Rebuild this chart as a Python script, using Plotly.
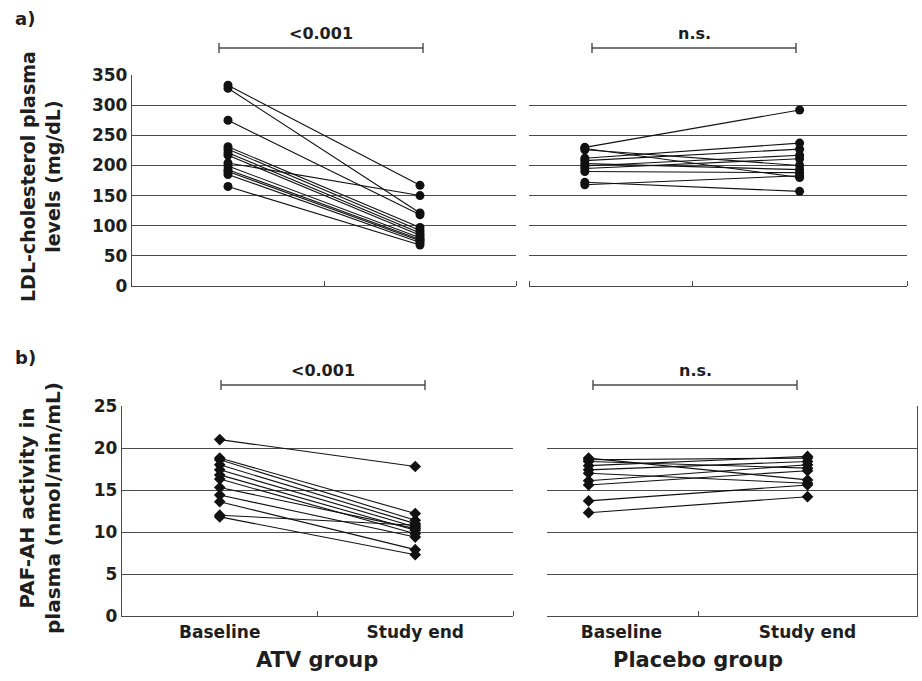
import plotly.graph_objects as go

# ---------------- data ----------------
timepoints = ["Baseline", "Study end"]
groups = ["ATV group", "Placebo group"]

ldl_atv_baseline = [333, 328, 275, 231, 227, 221, 217, 204, 199, 193, 190, 185, 165]
ldl_atv_end      = [167, 121, 118, 97, 92, 88, 84, 150, 80, 77, 75, 72, 68]
ldl_pla_baseline = [230, 228, 226, 212, 208, 203, 199, 195, 190, 172, 168]
ldl_pla_end      = [292, 180, 200, 237, 227, 193, 217, 211, 188, 157, 183]

paf_atv_baseline = [21.0, 18.8, 18.6, 18.0, 17.4, 16.8, 16.3, 15.3, 14.4, 13.6, 12.0, 11.8]
paf_atv_end      = [17.8, 12.2, 11.4, 11.0, 10.6, 10.2, 9.8, 10.4, 9.4, 7.9, 10.8, 7.3]
paf_pla_baseline = [18.8, 18.6, 18.4, 17.9, 17.4, 17.0, 16.1, 15.6, 13.7, 12.3]
paf_pla_end      = [16.2, 18.8, 17.6, 19.0, 18.4, 15.8, 18.0, 17.3, 15.6, 14.2]

ldl_ticks = [0, 50, 100, 150, 200, 250, 300, 350]
paf_ticks = [0, 5, 10, 15, 20, 25]
p_labels = ["<0.001", "n.s."]

# ---------------- layout helpers ----------------
W, H = 922, 681
def px(x):
    return x / W
def py(y):
    return 1 - y / H

FONT = "DejaVu Sans"
INK = "#1e1e1e"
LINE = "#4a4a4a"

def fnt(size):
    return dict(family=FONT, size=size, color=INK, weight=700)

def paired(base, end):
    xs, ys = [], []
    for b, e in zip(base, end):
        xs += [0, 1, None]
        ys += [b, e, None]
    return xs, ys

fig = go.Figure()
panels = [
    (ldl_atv_baseline, ldl_atv_end, "x", "y", "circle"),
    (ldl_pla_baseline, ldl_pla_end, "x2", "y2", "circle"),
    (paf_atv_baseline, paf_atv_end, "x3", "y3", "diamond"),
    (paf_pla_baseline, paf_pla_end, "x4", "y4", "diamond"),
]
for base, end, xa, ya, sym in panels:
    xs, ys = paired(base, end)
    fig.add_trace(go.Scatter(
        x=xs, y=ys, xaxis=xa, yaxis=ya, mode="lines+markers",
        line=dict(color="#111111", width=1.1),
        marker=dict(symbol=sym, size=9, color="#111111"),
        showlegend=False, hoverinfo="skip", connectgaps=False))

tickfont = fnt(17)

def xaxis(domain, rng, anchor, labels, label_vals, minor_vals):
    return dict(domain=domain, range=rng, anchor=anchor, automargin=False,
                showgrid=False, zeroline=False, showline=True,
                linecolor=LINE, linewidth=1.3,
                tickmode="array", tickvals=label_vals,
                ticktext=timepoints if labels else ["", ""],
                showticklabels=labels, ticks="", tickfont=tickfont,
                ticklabelstandoff=0,
                minor=dict(tickmode="array", tickvals=minor_vals,
                           ticks="inside", ticklen=5, tickwidth=1.2,
                           tickcolor=LINE, showgrid=False))

def yaxis(domain, rng, anchor, ticks, labels, side="left", line=True):
    return dict(domain=domain, range=rng, anchor=anchor, side=side, automargin=False,
                tickmode="array", tickvals=ticks,
                showticklabels=labels, ticks="", tickfont=tickfont,
                showgrid=True, gridcolor=LINE, gridwidth=1.2,
                zeroline=False, showline=line, linecolor=LINE, linewidth=1.3)

ya_dom = [py(286), py(75)]
yb_dom = [py(616), py(406)]

fig.update_layout(
    width=W, height=H,
    margin=dict(l=0, r=0, t=0, b=0, pad=0),
    paper_bgcolor="white", plot_bgcolor="white",
    font=fnt(17),
    xaxis=xaxis([px(132), px(516)], [-0.5, 1.5], "y", False, [0, 1], [0.5, 1.5]),
    xaxis2=xaxis([px(529), px(907)], [-0.26, 1.5], "y2", False, [0, 1], [-0.26, 0.5, 1.5]),
    xaxis3=xaxis([px(122), px(513)], [-0.5, 1.5], "y3", True, [0, 1], [0.5, 1.5]),
    xaxis4=xaxis([px(547), px(917)], [-0.19, 1.5], "y4", True, [0.15, 1], [0.5]),
    yaxis=yaxis(ya_dom, [0, 350], "x", ldl_ticks, True),
    yaxis2=yaxis(ya_dom, [0, 350], "x2", ldl_ticks, False, line=False),
    yaxis3=yaxis(yb_dom, [0, 25], "x3", paf_ticks, True),
    yaxis4=yaxis(yb_dom, [0, 25], "x4", paf_ticks, False, side="right", line=True),
)

# significance brackets
def bracket(x0, x1, y, text, ty):
    fig.add_shape(type="line", xref="paper", yref="paper",
                  x0=px(x0), x1=px(x1), y0=py(y), y1=py(y),
                  line=dict(color=LINE, width=1.4))
    for xx in (x0, x1):
        fig.add_shape(type="line", xref="paper", yref="paper",
                      x0=px(xx), x1=px(xx), y0=py(y - 5), y1=py(y + 5),
                      line=dict(color=LINE, width=1.4))
    fig.add_annotation(xref="paper", yref="paper", x=px((x0 + x1) / 2), y=py(ty),
                       text=text, showarrow=False, xanchor="center", yanchor="middle",
                       font=fnt(16))

bracket(219, 423, 48, p_labels[0], 34)
bracket(592, 796, 48, p_labels[1], 34)
bracket(221, 425, 385, p_labels[0], 370)
bracket(593, 797, 385, p_labels[1], 370)

# panel labels
for t, y in (("a)", 19), ("b)", 357)):
    fig.add_annotation(xref="paper", yref="paper", x=px(13), y=py(y), text=t,
                       showarrow=False, xanchor="left", yanchor="middle",
                       font=fnt(18))

# y-axis titles
fig.add_annotation(xref="paper", yref="paper", x=px(40), y=py(177),
                   text="LDL-cholesterol plasma<br>levels (mg/dL)", textangle=-90,
                   showarrow=False, xanchor="center", yanchor="middle",
                   font=fnt(19))
fig.add_annotation(xref="paper", yref="paper", x=px(40), y=py(508),
                   text="PAF-AH activity in<br>plasma (nmol/min/mL)", textangle=-90,
                   showarrow=False, xanchor="center", yanchor="middle",
                   font=fnt(20))

# group labels
for g, xc in zip(groups, (317, 698)):
    fig.add_annotation(xref="paper", yref="paper", x=px(xc), y=py(660), text=g,
                       showarrow=False, xanchor="center", yanchor="middle",
                       font=fnt(21))

fig.write_html("out.html", config={"displayModeBar": False},
               post_script="document.body.style.margin='0px';")
